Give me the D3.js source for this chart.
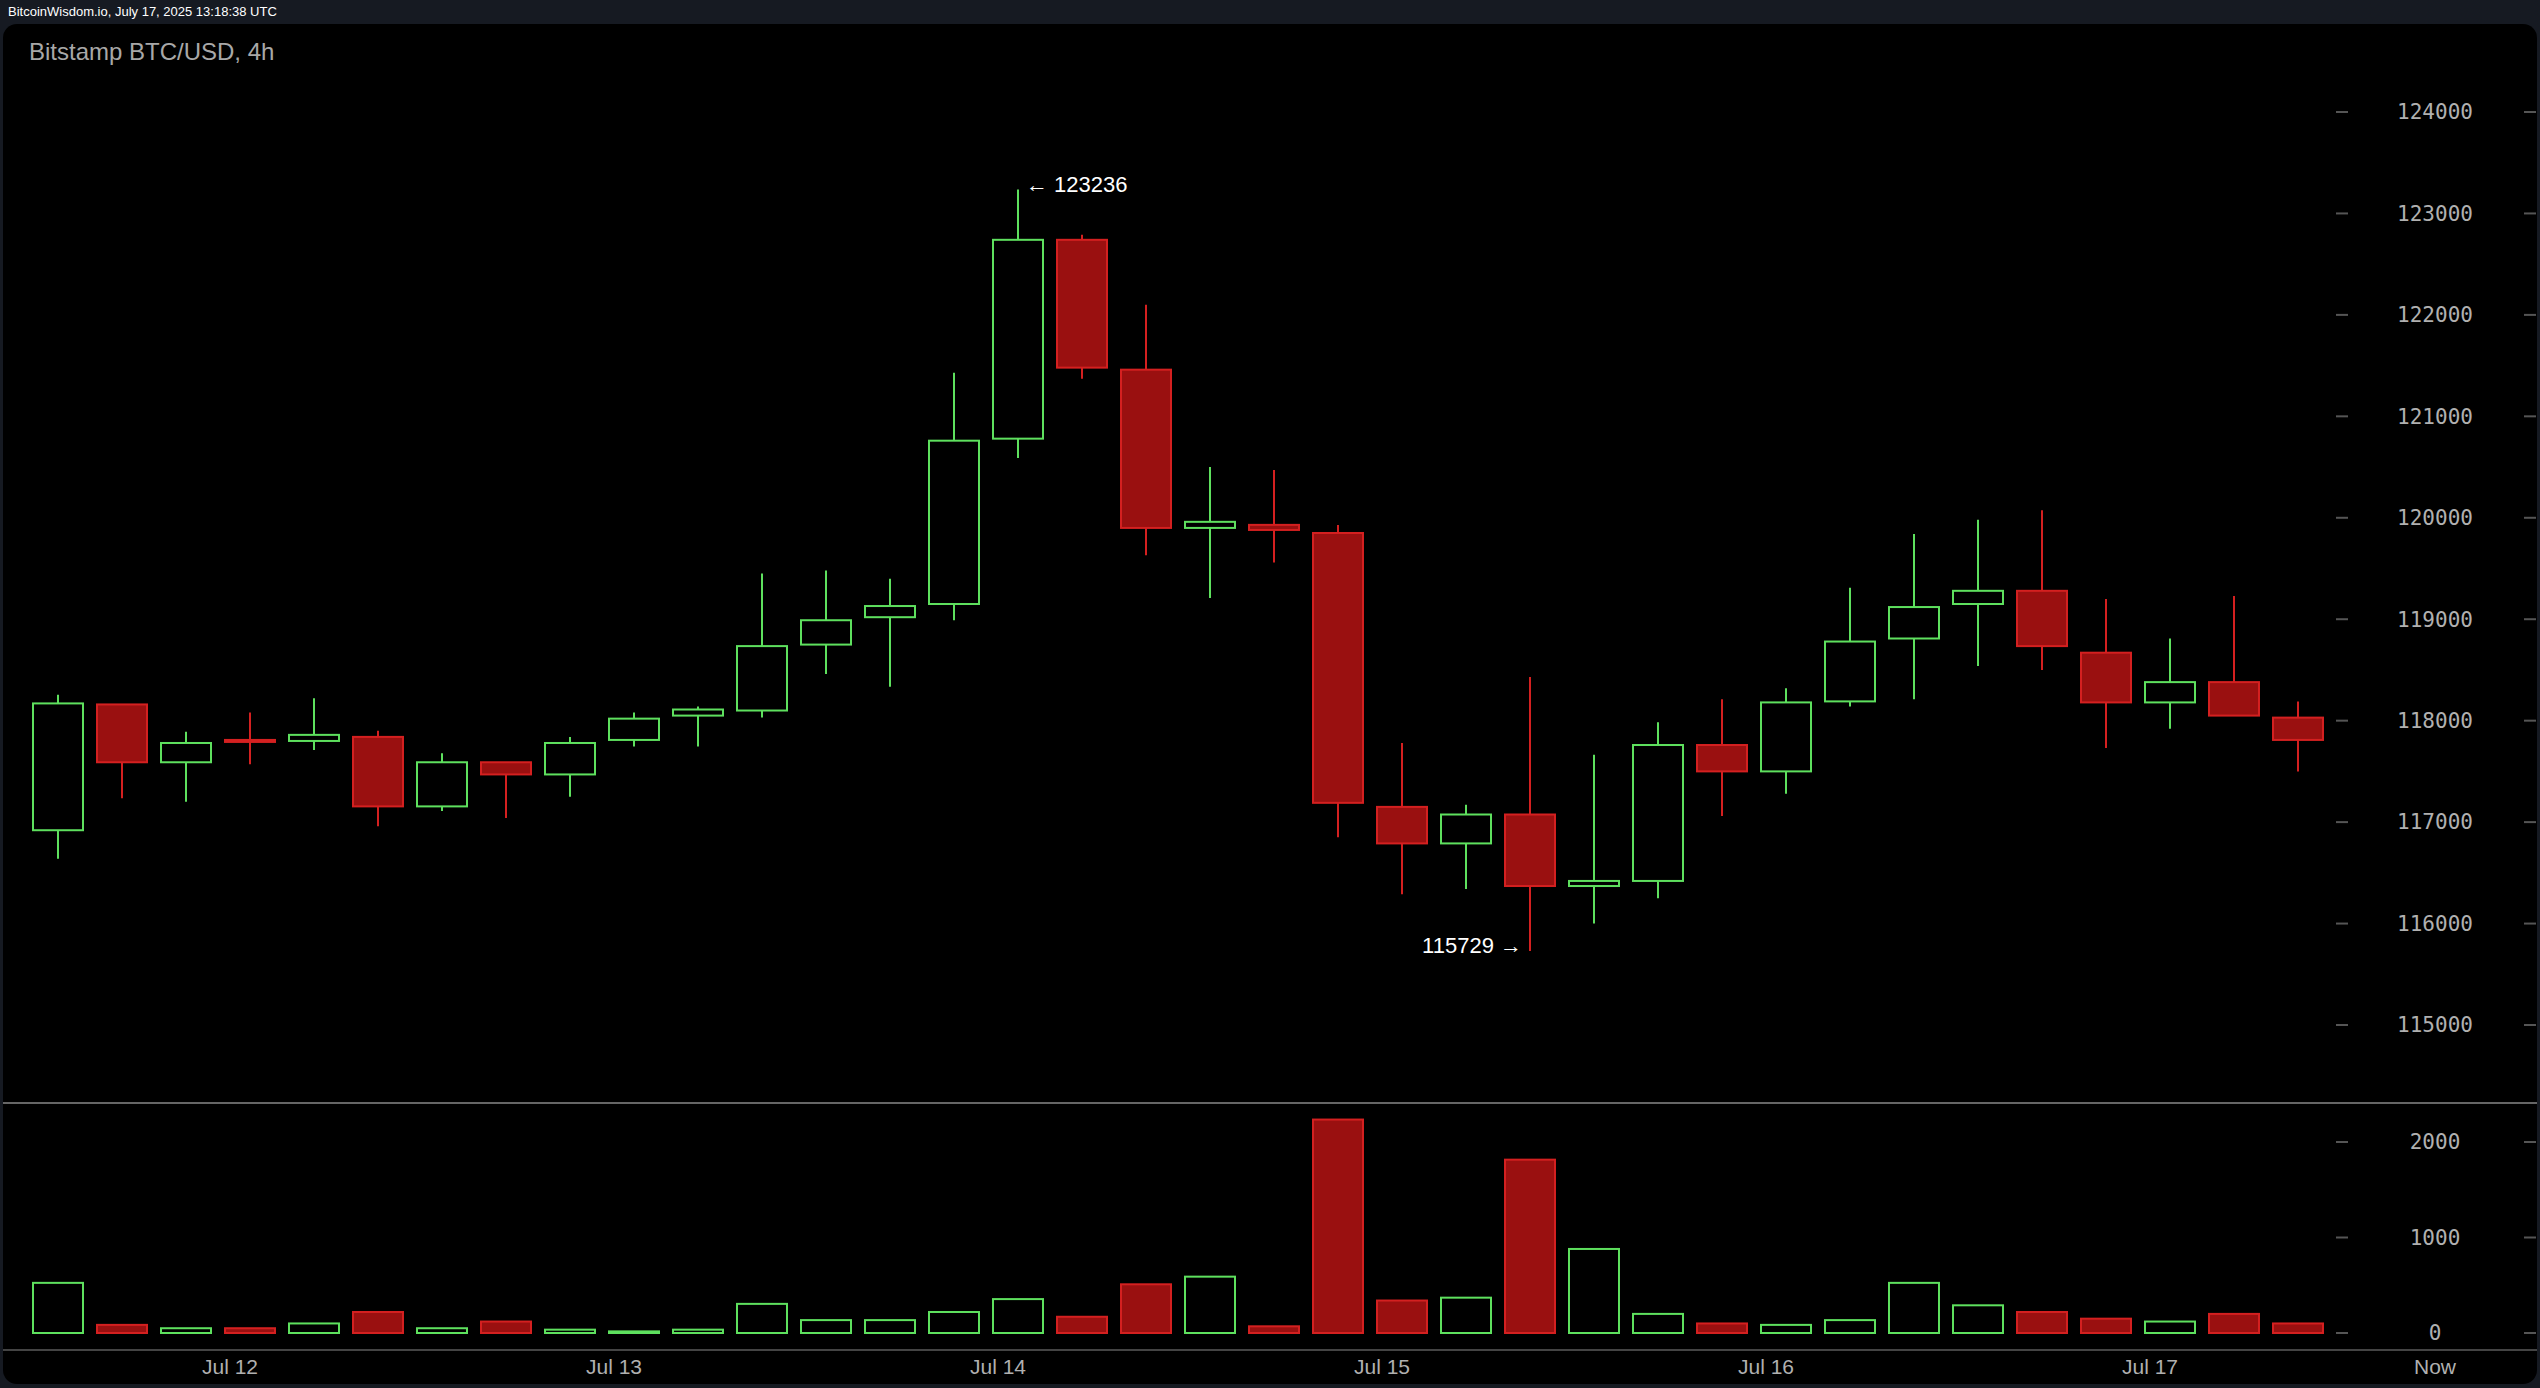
<!DOCTYPE html>
<html><head><meta charset="utf-8">
<script src="https://cdn.jsdelivr.net/npm/d3@7"></script>
<style>
body{margin:0;background:#161a22;overflow:hidden}
</style></head><body>
<svg id="c" width="2540" height="1388"></svg>
<script>
// 4h candles, Bitstamp BTC/USD, starting Jul 11 12:00 UTC
const opens  = [116920,118160,117590,117810,117800,117840,117155,117590,117470,117810,118050,118100,118750,119020,119150,120780,122740,121460,119900,119930,119850,117150,116790,117075,116370,116420,117760,117500,118190,118810,119150,119280,118670,118180,118380,118030];
const highs  = [118255,118160,117890,118080,118220,117900,117680,117590,117840,118080,118140,119450,119480,119400,121430,123236,122790,122100,120500,120470,119930,117780,117170,118430,117665,117985,118210,118320,119310,119840,119980,120075,119200,118810,119230,118190];
const lows   = [116640,117235,117200,117570,117710,116960,117110,117040,117250,117745,117745,118030,118460,118335,118990,120590,121370,119630,119210,119560,116850,116290,116340,115729,116000,116250,117060,117280,118140,118210,118540,118500,117730,117920,118050,117500];
const closes = [118170,117590,117780,117800,117860,117155,117590,117470,117780,118020,118110,118735,118990,119130,120760,122740,121480,119900,119960,119880,117190,116790,117075,116370,116420,117760,117500,118180,118780,119120,119280,118735,118180,118380,118050,117810];
const volumes= [525,85,50,50,100,220,50,120,35,17,35,305,135,135,220,355,170,510,590,70,2235,340,370,1815,880,200,100,85,135,525,290,220,150,120,200,100];
const priceTicks = [115000,116000,117000,118000,119000,120000,121000,122000,123000,124000];
const volTicks = [0,1000,2000];
const dayLabels = ["Jul 12","Jul 13","Jul 14","Jul 15","Jul 16","Jul 17"];

const t0 = Date.UTC(2025,6,11,12);
const H4 = 4*3600e3;
const times = opens.map((d,i)=>new Date(t0+i*H4));
const x = d3.scaleTime().domain([new Date(t0), new Date(t0+36*H4)]).range([32, 2336]);
const y = d3.scaleLinear().domain([115000,124000]).range([1025,112]);
const yv = d3.scaleLinear().domain([0,2000]).range([1333,1142]);
const bw = 52;
const GREEN="#5ee05e", RED="#d42020", REDF="#9a1010";

const svg = d3.select("#c");
svg.append("text").attr("x",8).attr("y",16).attr("fill","#fff").attr("font-family","Liberation Sans, Arial").attr("font-size",13).text("BitcoinWisdom.io, July 17, 2025 13:18:38 UTC");
svg.append("rect").attr("x",3).attr("y",24).attr("width",2534).attr("height",1360).attr("rx",14).attr("fill","#000");
svg.append("text").attr("x",29).attr("y",60).attr("fill","#a8a8a8").attr("font-family","Liberation Sans, Arial").attr("font-size",24).text("Bitstamp BTC/USD, 4h");

// separators
svg.append("line").attr("x1",3).attr("x2",2537).attr("y1",1103).attr("y2",1103).attr("stroke","#666").attr("stroke-width",2);
svg.append("line").attr("x1",3).attr("x2",2537).attr("y1",1350).attr("y2",1350).attr("stroke","#444").attr("stroke-width",2);

const mono = "DejaVu Sans Mono, monospace";
function axisTicks(ticks, sc){
  const g = svg.append("g");
  ticks.forEach(v=>{
    g.append("line").attr("x1",2336).attr("x2",2348).attr("y1",sc(v)).attr("y2",sc(v)).attr("stroke","#555").attr("stroke-width",2);
    g.append("line").attr("x1",2524).attr("x2",2536).attr("y1",sc(v)).attr("y2",sc(v)).attr("stroke","#555").attr("stroke-width",2);
    g.append("text").attr("x",2435).attr("y",sc(v)).attr("dy","0.35em").attr("text-anchor","middle").attr("fill","#b0b0b0").attr("font-family",mono).attr("font-size",21).text(v);
  });
}
axisTicks(priceTicks, y);
axisTicks(volTicks, yv);

dayLabels.forEach((l,i)=>{
  svg.append("text").attr("x",x(new Date(Date.UTC(2025,6,12+i)))+6).attr("y",1374).attr("text-anchor","middle").attr("fill","#b0b0b0").attr("font-family","Liberation Sans, Arial").attr("font-size",21).text(l);
});
svg.append("text").attr("x",2435).attr("y",1374).attr("text-anchor","middle").attr("fill","#b0b0b0").attr("font-family","Liberation Sans, Arial").attr("font-size",21).text("Now");

const data = times.map((t,i)=>({t,o:opens[i],h:highs[i],l:lows[i],c:closes[i],v:volumes[i],up:closes[i]>=opens[i]}));
const g = svg.append("g");
const cg = g.selectAll("g.k").data(data).join("g");
cg.append("line").attr("x1",d=>x(d.t)+bw/2).attr("x2",d=>x(d.t)+bw/2)
  .attr("y1",d=>y(d.h)).attr("y2",d=>y(d.l)).attr("stroke",d=>d.up?GREEN:RED).attr("stroke-width",2);
cg.append("rect").attr("x",d=>x(d.t)+1).attr("width",bw-2)
  .attr("y",d=>y(Math.max(d.o,d.c))).attr("height",d=>Math.max(2,Math.abs(y(d.o)-y(d.c))))
  .attr("fill",d=>d.up?"#000":REDF).attr("stroke",d=>d.up?GREEN:RED).attr("stroke-width",2);
cg.append("rect").attr("x",d=>x(d.t)+1).attr("width",bw-2)
  .attr("y",d=>yv(d.v)).attr("height",d=>yv(0)-yv(d.v))
  .attr("fill",d=>d.up?"#000":REDF).attr("stroke",d=>d.up?GREEN:RED).attr("stroke-width",2);

// extremes
const hi = d3.maxIndex(data,d=>d.h), lo = d3.minIndex(data,d=>d.l);
svg.append("text").attr("x",x(data[hi].t)+bw/2+8).attr("y",y(data[hi].h)).attr("dy","0.1em").attr("fill","#fff").attr("font-family","Liberation Sans, Arial").attr("font-size",22).text("← "+data[hi].h);
svg.append("text").attr("x",x(data[lo].t)+bw/2-8).attr("y",y(data[lo].l)).attr("dy","0.1em").attr("text-anchor","end").attr("fill","#fff").attr("font-family","Liberation Sans, Arial").attr("font-size",22).text(data[lo].l+" →");
</script></body></html>
